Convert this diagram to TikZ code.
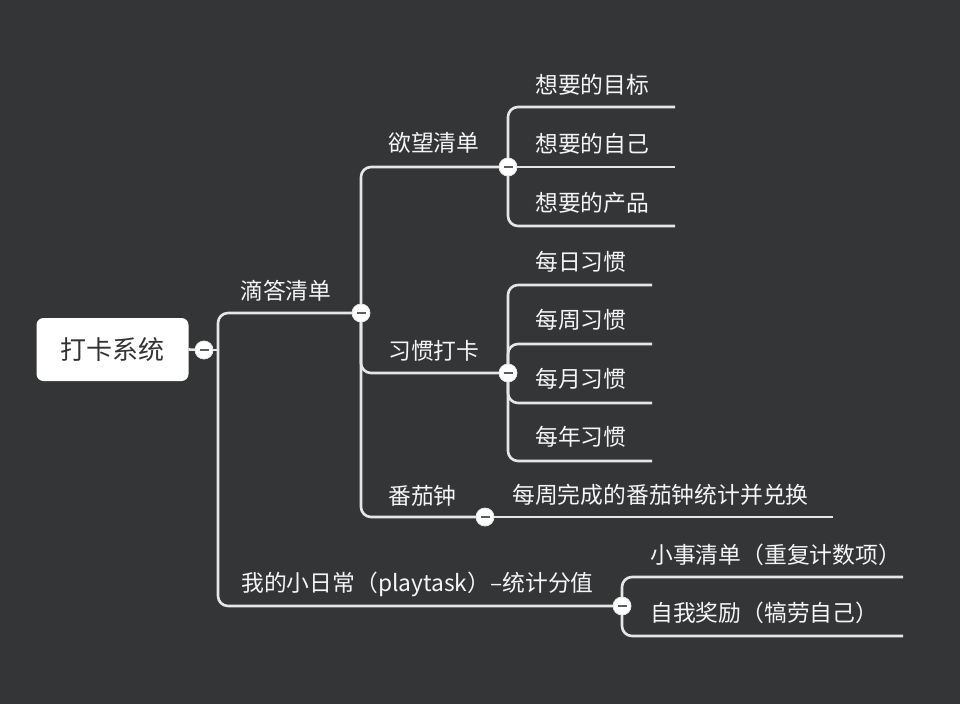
\documentclass[tikz,border=0pt]{standalone}
\usepackage{fontspec}
\setmainfont{Noto Sans CJK SC}
\usetikzlibrary{backgrounds}
\definecolor{bgc}{RGB}{52,53,55}
\definecolor{linec}{RGB}{230,230,230}
\definecolor{txtc}{RGB}{245,245,245}
\definecolor{dark}{RGB}{51,51,51}
\pgfdeclarelayer{bglayer}
\pgfdeclarelayer{lines}
\pgfsetlayers{bglayer,lines,main}
\tikzset{
  conn/.style={draw=linec, line width=2.6pt, rounded corners=10pt},
  lbl/.style={anchor=west, inner sep=0pt, text=txtc, font=\fontsize{22.8}{27}\selectfont},
  rootbox/.style={fill=white, rounded corners=7pt, minimum width=152pt, minimum height=63pt, text=dark, font=\fontsize{26}{31}\selectfont},
  coll/.style={circle, fill=white, draw=linec, line width=0.8pt, minimum size=18pt, inner sep=0pt,
    path picture={\draw[line width=2.2pt, color=dark!80!white]
      ([xshift=-4.5pt]path picture bounding box.center) -- ([xshift=4.5pt]path picture bounding box.center);}}
}
\begin{document}
\begin{tikzpicture}[x=1pt,y=-1pt]
\begin{pgfonlayer}{bglayer}
\fill[bgc] (0,0) rectangle (960,704);
\end{pgfonlayer}
\useasboundingbox (0,0) rectangle (960,704);

% root
\node[rootbox] (root) at (112.5,349.5) {打卡系统};

% collapse circles
\node[coll] (c0) at (204,350) {};
\node[coll] (c1) at (361,313) {};
\node[coll] (c2) at (508,167) {};
\node[coll] (c3) at (508,373) {};
\node[coll] (c4) at (485,517) {};
\node[coll] (c5) at (622,606) {};

% junction and line ends
\coordinate (j0) at (218,350);
\coordinate (e21) at (675,107);
\coordinate (e22) at (675,167);
\coordinate (e23) at (675,226);
\coordinate (e31) at (652,285);
\coordinate (e32) at (652,344);
\coordinate (e33) at (652,403);
\coordinate (e34) at (652,461);
\coordinate (e41) at (833,517);
\coordinate (e51) at (903,577);
\coordinate (e52) at (903,636);

% labels
\node[lbl] (l1) at (240,291) {滴答清单};
\node[lbl] (l2) at (388,143) {欲望清单};
\node[lbl] (l3) at (388,351) {习惯打卡};
\node[lbl] (l4) at (388,496) {番茄钟};
\node[lbl] (l41) at (512,495) {每周完成的番茄钟统计并兑换};
\node[lbl] (l21) at (535,85) {想要的目标};
\node[lbl] (l22) at (535,144) {想要的自己};
\node[lbl] (l23) at (535,203) {想要的产品};
\node[lbl] (l31) at (535,262) {每日习惯};
\node[lbl] (l32) at (535,320) {每周习惯};
\node[lbl] (l33) at (535,379) {每月习惯};
\node[lbl] (l34) at (535,437) {每年习惯};
\node[lbl] (l5) at (241,584) {我的小日常（playtask）–统计分值};
\node[lbl] (l51) at (650,555) {小事清单（重复计数项）};
\node[lbl] (l52) at (650,613) {自我奖励（犒劳自己）};

\begin{pgfonlayer}{lines}
\draw[conn] (root.east) -- (c0.center);
\draw[conn] (c0.center) -- (j0);
\draw[conn] (j0) |- (c1.center);
\draw[conn] (j0) |- (c5.center);
\draw[conn] (c1.center) |- (c2.center);
\draw[conn] (c1.center) |- (c3.center);
\draw[conn] (c1.center) |- (c4.center);
\draw[conn] (c2.center) |- (e21);
\draw[conn] (c2.center) -- (e22);
\draw[conn] (c2.center) |- (e23);
\draw[conn] (c3.center) |- (e31);
\draw[conn] (c3.center) |- (e32);
\draw[conn] (c3.center) |- (e33);
\draw[conn] (c3.center) |- (e34);
\draw[conn] (c4.center) -- (e41);
\draw[conn] (c5.center) |- (e51);
\draw[conn] (c5.center) |- (e52);
\end{pgfonlayer}
\end{tikzpicture}
\end{document}
